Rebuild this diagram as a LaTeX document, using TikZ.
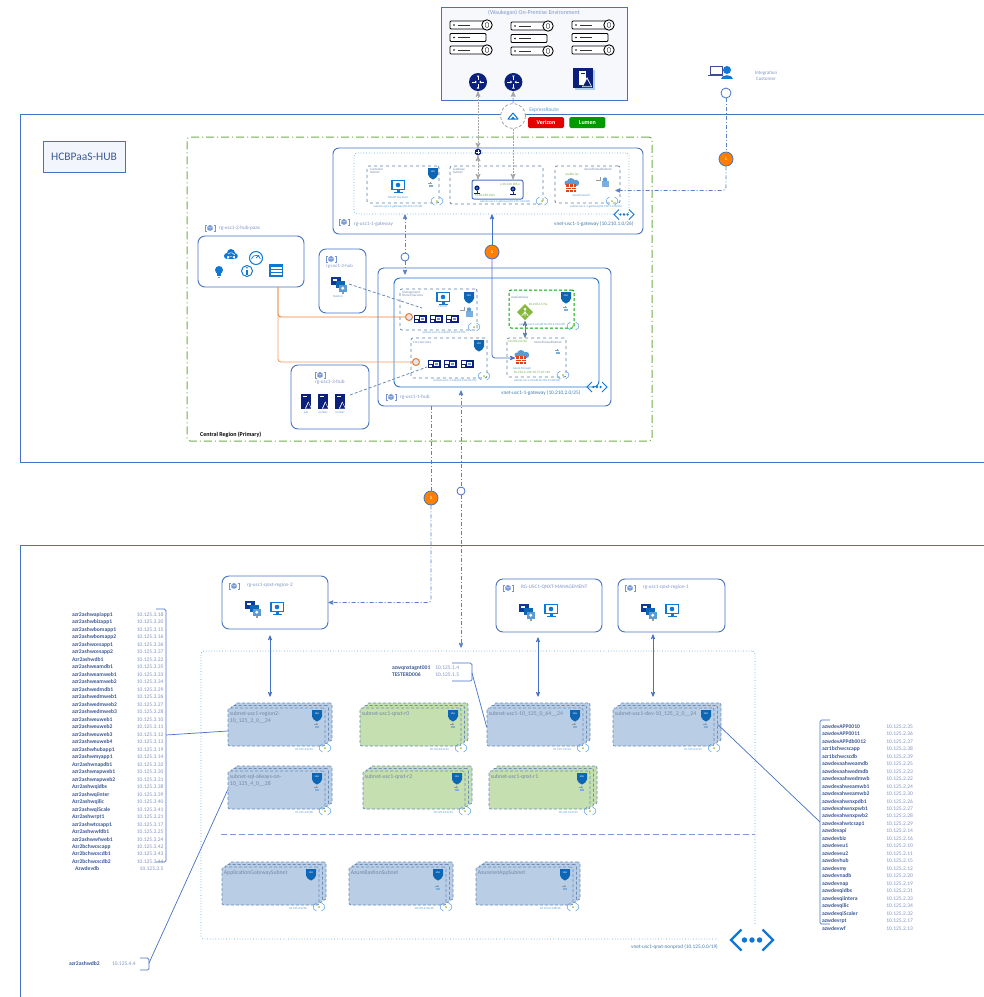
\documentclass[tikz,border=0pt]{standalone}
\usepackage{fontspec}
\setmainfont{Carlito}
\usetikzlibrary{positioning,fit,arrows}
\definecolor{boxblue}{HTML}{4472C4}
\definecolor{hostblue}{HTML}{3D5A98}
\definecolor{iplight}{HTML}{7F94C4}
\definecolor{labelblue}{HTML}{8196C9}
\definecolor{capblue}{HTML}{5B9BD5}
\definecolor{iconblue}{HTML}{0F78D4}
\definecolor{deepblue}{HTML}{0B1F7C}
\definecolor{stackblue}{HTML}{B9CDE5}
\definecolor{stackgreen}{HTML}{C5DFB0}
\definecolor{stackdraw}{HTML}{6A8DB8}
\definecolor{titlegray}{HTML}{7488A6}
\definecolor{greenframe}{HTML}{70AD47}
\definecolor{orangelink}{HTML}{ED7D31}
\definecolor{subnetdash}{HTML}{5B7EA6}
\definecolor{dotblue}{HTML}{5BA3DC}
\newcommand{\pxfont}[1]{\fontsize{#1}{#1}\selectfont}
\newcommand{\subnetstack}[7]{%
  \node[stackbox,fill=#5,fit={({#2+7},{#3-5}) ({#4+7},{#3+33})}] (#1c) {};
  \node[stackbox,fill=#5,fit={({#2+3.5},{#3-2.5}) ({#4+3.5},{#3+35.5})}] (#1b) {};
  \node[stackbox,fill=#5,fit={(#2,#3) (#4,{#3+38})}] (#1) {};
  \node[stacktitle] at ([yshift=-1.5pt]#1.north west) {#6};
  \pic at ({#4-8},{#3+7}) {shield};
  \node[capsmall,anchor=east] at ({#4-12},{#3+41}) {#7};
  \pic at (#4,{#3+40}) {peering};
}
\begin{document}
\begin{tikzpicture}[x=1pt,y=-1pt,
    framebox/.style = {draw=boxblue,line width=0.8pt,inner sep=0pt},
    rgbox/.style = {draw=boxblue,line width=0.9pt,rounded corners=7pt,fill=white,inner sep=0pt},
    vnetbox/.style = {draw=boxblue,line width=0.9pt,rounded corners=6pt,inner sep=0pt},
    dotbox/.style = {draw=dotblue,dotted,line width=0.7pt,rounded corners=3pt,inner sep=0pt},
    netbox/.style = {draw=subnetdash,dashed,line width=0.7pt,rounded corners=2pt,inner sep=0pt},
    stackbox/.style = {draw=stackdraw,densely dashed,line width=0.7pt,rounded corners=2pt,inner sep=0pt},
    stacktitle/.style = {anchor=north west,align=left,inner sep=2pt,text=titlegray,font=\pxfont{5.8}},
    rglabel/.style = {anchor=west,inner sep=0pt,text=labelblue,font=\pxfont{5.2}},
    vnetlabel/.style = {anchor=west,inner sep=0pt,text=capblue!80!black,font=\pxfont{5.3}},
    capsmall/.style = {inner sep=0pt,text=capblue,font=\pxfont{3.1}},
    tinygray/.style = {inner sep=0pt,align=left,text=titlegray,font=\pxfont{3.3}},
    tinygreen/.style = {inner sep=0pt,text=greenframe,font=\pxfont{3.3}},
    hostname/.style = {inner sep=0pt,text width=50pt,align=left,minimum height=7.09pt,text height=3.6pt,text depth=1pt,text=hostblue,font=\bfseries\pxfont{5.6}},
    hostip/.style = {inner sep=0pt,text width=41pt,align=right,minimum height=7.09pt,text height=3.6pt,text depth=1pt,text=iplight,font=\pxfont{5.5}},
    rhostname/.style = {hostname,text width=64pt,minimum height=7.07pt},
    rhostip/.style = {hostip,text width=30pt,align=left,minimum height=7.07pt},
    carrier/.style = {rounded corners=1.5pt,text=white,minimum width=36pt,minimum height=11pt,inner sep=0pt,font=\bfseries\pxfont{6}},
    stepdot/.style = {circle,draw=boxblue,line width=0.8pt,fill=orange,text=white,minimum size=14pt,inner sep=0pt,font=\bfseries\pxfont{4}},
    ringdot/.style = {circle,draw=boxblue,line width=0.8pt,fill=white,minimum size=8pt,inner sep=0pt},
    portdot/.style = {circle,draw=orangelink,line width=1pt,fill=black!10,minimum size=7pt,inner sep=0pt},
    routernode/.style = {circle,fill=deepblue,minimum size=18pt,inner sep=0pt},
    graylink/.style = {color=black!35,dash pattern=on 2pt off 1pt,line width=1pt,stealth'-stealth'},
    dashlink/.style = {color=boxblue!90,line width=0.8pt,dash pattern=on 4pt off 2pt on 1pt off 2pt},
    solidlink/.style = {color=boxblue,line width=0.8pt},
    peerlink/.style = {color=boxblue,line width=0.7pt,stealth'-stealth',shorten >=6pt},
    bracketline/.style = {draw=boxblue,line width=0.7pt,rounded corners=1.5pt},
    tieline/.style = {draw=boxblue,line width=0.7pt},
    vmlink/.style = {draw=subnetdash,densely dashed,line width=0.7pt},
    orangewire/.style = {draw=orangelink,line width=0.9pt,rounded corners=3pt},
    rgicon/.pic = {
      \draw[boxblue!75,line width=0.4pt] (-3.5,-3) -- (-4.8,-3) -- (-4.8,3) -- (-3.5,3);
      \draw[boxblue!75,line width=0.4pt] (3.5,-3) -- (4.8,-3) -- (4.8,3) -- (3.5,3);
      \fill[boxblue!75] (0,-3) -- (2.7,-1.5) -- (2.7,1.5) -- (0,3) -- (-2.7,1.5) -- (-2.7,-1.5) -- cycle;
      \draw[white,line width=0.3pt] (-2.6,-1.5) -- (0,0) -- (2.6,-1.5) (0,0) -- (0,2.9);
    },
    shield/.pic = {
      \fill[iconblue!85!black] (-5,-5) -- (5,-5) -- (5,1.5) .. controls (5,4) and (2,5.5) .. (0,6.5) .. controls (-2,5.5) and (-5,4) .. (-5,1.5) -- cycle;
      \node[inner sep=0pt,text=white,font=\pxfont{2.5}] at (0,-1) {NSG};
    },
    lockicon/.pic = {
      \fill[capblue!80] (-1.6,-0.5) rectangle (1.8,2.3);
      \fill[iconblue!70] (0.1,-1.6) circle (0.8);
      \draw[black!40,line width=0.4pt] (-1.2,-3) -- (-1.2,-1.5) -- (-3,-1.5);
    },
    wideicon/.pic = {
      \fill[capblue!80] (-3.5,-2) rectangle (3.5,4);
      \fill[iconblue!70] (0,-3.5) circle (2.2);
      \draw[black!40,line width=0.6pt] (-4.5,-6) -- (-4.5,-2.5) -- (-9,-2.5);
    },
    peering/.pic = {
      \draw[iconblue!70,line width=0.5pt] (-2.5,-4) .. controls (-7,-2) and (-7,2) .. (-2.5,4);
      \draw[iconblue!70,line width=0.5pt] (2.5,-4) .. controls (7,-2) and (7,2) .. (2.5,4);
      \fill[greenframe!70!yellow] (0,0) circle (1);
    },
    vmstack/.pic = {
      \fill[deepblue!70!iconblue] (-8,-8) rectangle (2,0);
      \fill[white] (-6,-6.5) rectangle (-2,-4.5);
      \fill[iconblue!85!black] (-3,-4) rectangle (6,3);
      \fill[capblue] (-0.5,-0.5) rectangle (8,7);
      \fill[white] (3.7,3.2) circle (1.6);
      \fill[black!40] (2.5,7) rectangle (5,8.5);
    },
    monitor/.pic = {
      \fill[iconblue] (-7,-6) rectangle (7,4);
      \fill[white] (-5.5,-4.7) rectangle (5.5,2.7);
      \fill[iconblue] (0,-1) circle (2.3);
      \fill[iconblue] (-1.5,4) rectangle (1.5,6);
      \fill[iconblue] (-4.5,6) rectangle (4.5,7);
    },
    vmchip/.pic = {
      \fill[deepblue] (-6.5,-4) rectangle (6.5,4);
      \fill[white] (-5,-2.8) rectangle (-1,-0.5);
      \fill[white] (0,-2.5) rectangle (4.5,1.5);
      \fill[capblue] (1,-1.5) rectangle (3.5,0.5);
      \fill[white] (-5,1) rectangle (-2,2.5);
    },
    tower/.pic = {
      \fill[deepblue] (-5,-7.5) rectangle (5,7.5);
      \fill[white] (-3,-5) rectangle (1,-4.2);
      \fill[white] (5.6,7.5) -- (-1,7.5) -- (2.3,0.5) -- cycle;
      \fill[deepblue] (5,7.5) -- (0,7.5) -- (2.5,2) -- cycle;
    },
    rackrow/.pic = {
      \draw[black,line width=0.9pt,fill=white,rounded corners=1pt] (0,-4) rectangle (36,4);
      \fill[black] (4,0) circle (0.9);
      \draw[black!80,line width=0.8pt] (8,0) -- (20,0);
    },
    rackend/.pic = {
      \draw[black,line width=0.9pt,fill=white] (0,0) circle (5.2);
      \draw[black!70,line width=0.5pt,fill=white,rounded corners=1pt] (-1.6,-2.4) rectangle (1.6,2.4);
    },
    rackstack/.pic = {
      \pic at (0,0) {rackrow};
      \pic at (37,0) {rackend};
      \pic at (0,12.5) {rackrow};
      \pic at (0,25) {rackrow};
      \pic at (37,25) {rackend};
    },
    routerarrows/.pic = {
      \draw[white,line width=0.7pt] (-6,0) -- (-2,0) (2,0) -- (6,0) (0,-6) -- (0,-2) (0,2) -- (0,6);
      \fill[white] (-3,-1.4) -- (-3,1.4) -- (-1.2,0) -- cycle;
      \fill[white] (3,-1.4) -- (3,1.4) -- (1.2,0) -- cycle;
      \fill[white] (-1.4,-6.5) -- (1.4,-6.5) -- (0,-4.7) -- cycle;
      \fill[white] (-1.4,6.5) -- (1.4,6.5) -- (0,4.7) -- cycle;
    },
    appstack/.pic = {
      \fill[capblue!50] (-8,-8) rectangle (12,12);
      \fill[deepblue] (-10,-10) rectangle (10,10);
      \fill[white] (-4,-7) rectangle (3,7);
      \fill[deepblue] (-2.5,-5) rectangle (1.5,-4);
      \fill[white] (9,9) -- (-1,9) -- (4,-1) -- cycle;
      \fill[deepblue] (8,8.4) -- (0,8.4) -- (4,1) -- cycle;
    },
    erlogo/.pic = {
      \draw[iconblue,line width=1pt,line join=round] (-5,3) -- (0,-3) -- (5,3) -- cycle;
      \fill[iconblue] (-2,3) -- (0,0.5) -- (2,3) -- cycle;
    },
    hexmark/.pic = {
      \fill[deepblue] (0,-3.5) -- (3,-1.8) -- (3,1.8) -- (0,3.5) -- (-3,1.8) -- (-3,-1.8) -- cycle;
      \draw[white,line width=0.3pt] (-2,0) -- (2,0) (0,-2) -- (0,2);
    },
    vneticon/.pic = {
      \draw[iconblue] (-5,-5) -- (-10,0) -- (-5,5);
      \draw[iconblue] (5,-5) -- (10,0) -- (5,5);
      \fill[iconblue] (-3.6,0) circle (1.3) (0,0) circle (1.3) (3.6,0) circle (1.3);
    },
    firewall/.pic = {
      \fill[capblue] (-1,-4) circle (4) (4,-3) circle (3.2);
      \fill[capblue] (-5,-3) circle (2.5);
      \fill[orangelink!60!red!90!black] (-6,-2) rectangle (4,6);
      \draw[white,line width=0.3pt] (-6,0.7) -- (4,0.7) (-6,3.4) -- (4,3.4) (-3,-2) -- (-3,0.7) (1,-2) -- (1,0.7) (-1,0.7) -- (-1,3.4) (-3,3.4) -- (-3,6) (1,3.4) -- (1,6);
    },
    appgwicon/.pic = {
      \fill[greenframe!85!yellow] (0,-8) -- (8,0) -- (0,8) -- (-8,0) -- cycle;
      \draw[white,line width=0.6pt] (0,-3) -- (0,4) (0,0) -- (-3.5,4) (0,0) -- (3.5,4);
      \fill[white] (0,-3) circle (1.5);
    },
    gwkey/.pic = {
      \fill[deepblue] (0,-1) circle (2.6);
      \fill[capblue] (0,-1) circle (1);
      \draw[deepblue,line width=0.6pt] (0,1.5) -- (0,4) (-3,4) -- (3,4);
    },
    cloudmark/.pic = {
      \fill[iconblue] (-4,1) circle (3) (0,-2) circle (4) (4,1) circle (2.8) (-4,1) rectangle (4,3.8);
      \draw[white,line width=0.5pt] (-3,-1) .. controls (0,-3.5) and (2,-2) .. (4,0);
    },
    gaugemark/.pic = {
      \draw[iconblue,line width=1pt,fill=white] (0,0) circle (6.5);
      \draw[iconblue,line width=0.7pt] (-4.5,1) arc (190:350:4.5);
      \draw[iconblue,line width=0.7pt] (0,0) -- (3,-3);
    },
    infomark/.pic = {
      \draw[iconblue,line width=1pt,fill=white] (0,0) circle (5.5);
      \draw[iconblue,line width=1.1pt] (0,-1) -- (0,3.5);
      \fill[iconblue] (0,-3.2) circle (0.9);
    },
    bulbmark/.pic = {
      \fill[iconblue] (0,-2) circle (4);
      \fill[iconblue] (-1.8,1) rectangle (1.8,4);
      \fill[capblue] (-1.2,4.5) rectangle (1.2,5.5);
    },
    listmark/.pic = {
      \fill[iconblue] (-7,-6.5) rectangle (7,6.5);
      \fill[white] (-5.5,-2.8) rectangle (5.5,-1);
      \fill[white] (-5.5,0) rectangle (5.5,1.8);
      \fill[white] (-5.5,2.8) rectangle (5.5,4.8);
    },
    usermark/.pic = {
      \draw[deepblue!80,line width=0.6pt,fill=white] (-14,-7) rectangle (-2,1);
      \draw[deepblue!80,line width=1pt] (-16,2.5) -- (-1,2.5);
      \fill[iconblue] (3,-3) circle (4);
      \fill[iconblue] (-3,6) .. controls (-3,1) and (9,1) .. (9,6) -- cycle;
    }]
  \useasboundingbox (0,0) rectangle (984,997);
  \fill[white] (0,0) rectangle (984,997);

  \node[framebox,fit={(20,114) (995,462)}] (hubframe) {};
  \node[framebox,fit={(20,545) (995,1010)}] (spokeframe) {};
  \node[framebox,fill=boxblue!7,fit={(43,141) (125,172)}] (hubtitle) {};
  \node[inner sep=0pt,text=hostblue,font=\pxfont{11.5}] at (hubtitle) {HCBPaaS-HUB};
  \node[draw=greenframe,line width=1pt,dash pattern=on 8pt off 3pt on 1pt off 3pt,rounded corners=3pt,inner sep=0pt,fit={(187,137) (652,441)}] (central) {};
  \node[anchor=west,inner sep=0pt,font=\bfseries\pxfont{6}] at (200,435) {Central Region (Primary)};

  \node[framebox,line width=1pt,fill=boxblue!5,fit={(441,7) (627,100)}] (onprem) {};
  \node[inner sep=0pt,text=labelblue,font=\pxfont{6}] at (534,13) {(Waukegan) On-Premise Environment};
  \pic at (450,25) {rackstack};
  \pic at (511,26) {rackstack};
  \pic at (572,25) {rackstack};
  \node[routernode] (router1) at (478,82) {};
  \node[routernode,right = 17pt of router1] (router2) {};
  \pic at (router1) {routerarrows};
  \pic at (router2) {routerarrows};
  \pic at (583,78) {appstack};

  \node[circle,draw=black!40,densely dashed,line width=0.7pt,fill=white,minimum size=25pt,inner sep=0pt] (expressr) at (513,116) {};
  \pic at (expressr) {erlogo};
  \node[inner sep=0pt,text=capblue,font=\pxfont{5.4}] at (544,110) {ExpressRoute};
  \node[carrier,fill=red!90!black] (verizon) at (546,122.5) {Verizon};
  \node[carrier,fill=green!60!black,right = 5pt of verizon] (lumen) {Lumen};

  \node[vnetbox,fill=white,fit={(333,148) (643,234)}] (gwvnet) {};
  \node[dotbox,fit={(354,153) (629,214)}] (gwdots) {};
  \node[netbox,fit={(367,166) (439,203)}] (custnet) {};
  \node[netbox,fit={(450,166) (543,204)}] (gwnet) {};
  \node[netbox,fit={(555,166) (620,203)}] (fwnet) {};
  \node[draw=boxblue,line width=1pt,rounded corners=2pt,inner sep=0pt,fit={(472,180) (523,199)}] (gwinner) {};
  \node[tinygray,anchor=north west] at (370,168) {Customer\\Subnet};
  \node[tinygray,anchor=north west] at (453,168) {Gateway\\Subnet};
  \node[tinygray,anchor=east] at (612,169) {AzureFirewallSubnet};
  \pic at (433,173) {shield};
  \pic at (431,185) {lockicon};
  \pic at (398,186) {monitor};
  \node[capsmall,text=capblue] at (398,197) {MineIT Receiver};
  \pic at (477,189) {gwkey};
  \pic at (513,190) {gwkey};
  \node[tinygreen] at (485,195) {10.64.250.20/x};
  \node[tinygreen] at (510,184.5) {x.30.220.185.x};
  \pic at (572,186) {firewall};
  \node[capsmall] at (581,195) {AzureFirewall};
  \node[tinygreen] at (572,175) {<public ip>};
  \pic at (605,183) {wideicon};
  \pic at (437,201) {peering};
  \pic at (542,201) {peering};
  \pic at (612,201) {peering};
  \node[capsmall] at (398,207) {subnet-usc1-1-gateway(10.210.1.0/26)};
  \node[capsmall] at (505,201.5) {subnet-usc1-1-gateway(10.210.1.64/26)};
  \node[capsmall] at (596,207) {subnet-usc1-1-gateway(10.210.1.128/26)};
  \pic at (344,222) {rgicon};
  \node[rglabel] at (354,224) {rg-usc1-1-gateway};
  \node[vnetlabel] at (554,224) {vnet-usc1-1-gateway (10.210.1.0/26)};
  \pic[line width=1pt] at (624,214.5) {vneticon};
  \node[inner sep=0pt,minimum size=7pt] (gwmark) at (478,152) {};
  \pic at (gwmark) {hexmark};

  \draw[graylink] (router1) -- (gwmark);
  \draw[graylink] (gwmark) -- (gwmark |- gwinner.north);
  \draw[graylink,-stealth'] (expressr) -- (router2);
  \draw[graylink,-stealth'] (expressr) -- (expressr |- gwinner.north);

  \node[rgbox,fit={(198,236) (304,287)}] (rgpaas) {};
  \pic at (210,228) {rgicon};
  \node[rglabel] at (219,228) {rg-usc1-2-hub-paas};
  \pic at (231,255) {cloudmark};
  \pic at (256,258) {gaugemark};
  \pic at (219,272) {bulbmark};
  \pic at (247,271) {infomark};
  \pic at (276,270) {listmark};
  \coordinate (paasout) at (278,287);

  \node[rgbox,fit={(319,249) (366,313)}] (rghub2) {};
  \pic at (331,259) {rgicon};
  \node[rglabel,font=\pxfont{4.7}] at (326,266) {rg-usc1-2-hub};
  \pic at (339,285) {vmstack};
  \node[capsmall] at (338,296) {Bastion};
  \coordinate (bastionout) at (349,284);

  \node[rgbox,fit={(291,365) (369,429)}] (rghub3) {};
  \pic at (320,375) {rgicon};
  \node[rglabel] at (315,382) {rg-usc1-3-hub};
  \pic at (306,401) {tower};
  \pic at (323,401) {tower};
  \pic at (340,401) {tower};
  \node[capsmall] at (306,412) {ads};
  \node[capsmall] at (323,412) {oc/dwc};
  \node[capsmall] at (340,412) {oc/dwc};
  \coordinate (adsout) at (350,395);

  \node[vnetbox,fit={(378,268) (611,406)}] (hubrg) {};
  \node[vnetbox,draw=iconblue!70!boxblue,fit={(394,278) (599,387)}] (hubvnet) {};
  \node[netbox,fit={(400,289) (477,330)}] (mgmtnet) {};
  \node[netbox,fit={(411,338) (487,378)}] (corenet) {};
  \node[draw=green!65!black,densely dashed,line width=1pt,rounded corners=2pt,inner sep=0pt,fit={(509,290) (574,328)}] (appnet) {};
  \node[netbox,fit={(507,338) (566,377)}] (fwhub) {};
  \node[tinygray,anchor=north west] at (402,291) {Management\\Shared Services};
  \node[tinygray,anchor=west] at (413,342) {Core Services};
  \node[tinygray,anchor=west] at (511,298) {AppGateway};
  \node[tinygray,anchor=west] at (534,342) {AzureFirewallSubnet};
  \node[tinygreen,anchor=west] at (508,341.5) {10.210.2.0/26};
  \pic at (469,297) {shield};
  \pic at (469,313) {wideicon};
  \pic at (443,298) {monitor};
  \node[capsmall] at (443,306.5) {MineIT};
  \pic at (420,319) {vmchip};
  \pic at (436,319) {vmchip};
  \pic at (452,319) {vmchip};
  \pic at (479,345) {shield};
  \pic at (434,364) {vmchip};
  \pic at (450,364) {vmchip};
  \pic at (467,364) {vmchip};
  \pic at (566,297) {shield};
  \pic at (566,309) {lockicon};
  \pic at (525,312) {appgwicon};
  \node[tinygreen] at (538,304) {10.210.2.5/5a};
  \pic at (522,358) {firewall};
  \node[capsmall] at (522,368) {Azure Firewall};
  \node[tinygreen] at (532,372.5) {10.210.2.132/10.77.45.165};
  \pic at (558,352) {lockicon};
  \pic at (474,327) {peering};
  \pic at (484,376) {peering};
  \pic at (573,326) {peering};
  \pic at (563,375) {peering};
  \node[capsmall] at (444,332.5) {subnet-usc1-2-hub(10.210.2.0/26)};
  \node[capsmall] at (455,381) {subnet-usc1-1-hub(10.210.2.0/25)};
  \node[capsmall] at (542,324.5) {subnet-usc1-a-hub(10.210.2.192/26)};
  \node[capsmall] at (537,381) {subnet-usc1-3-hub(10.210.2.128/26)};
  \pic at (391,397) {rgicon};
  \node[rglabel] at (400,397) {rg-usc1-1-hub};
  \node[vnetlabel] at (501,393) {vnet-usc1-1-gateway (10.210.2.0/25)};
  \pic[line width=1pt] at (597,387) {vneticon};

  \node[portdot] (portA) at (409,317) {};
  \node[portdot] (portB) at (416,362) {};
  \draw[orangewire] (paasout) |- (portA);
  \draw[orangewire,orangelink!75] (paasout) |- (portB);
  \coordinate (mgmtin) at (422,308);
  \coordinate (corein) at (427,367);
  \draw[vmlink] (bastionout) -- (mgmtin);
  \draw[vmlink] (adsout) -- (corein);
  \coordinate (appgwout) at (525,321);
  \draw[solidlink,color=subnetdash,stealth'-stealth'] (appgwout) -- (appgwout |- fwhub.north);

  \pic at (724,73) {usermark};
  \node[inner sep=0pt,align=center,text=labelblue,font=\pxfont{5}] at (766,75.5) {Integration\\[1pt]Customer};
  \node[ringdot,minimum size=10pt] (custring) at (726,93) {};
  \node[stepdot] (stepA) at (726,159) {1};
  \draw[dashlink] (custring) -- (stepA);
  \draw[dashlink,-stealth',rounded corners=3pt] (stepA) |- ([xshift=-5pt,yshift=-6pt]fwnet.east);

  \node[stepdot] (stepB) at (492,252) {2};
  \coordinate (fwin) at (515,358);
  \draw[solidlink,stealth'-] (gwdots.south -| stepB) -- (stepB);
  \draw[solidlink,-stealth',rounded corners=3pt] (stepB) |- (fwin);

  \node[ringdot] (ringE) at (405,257) {};
  \draw[dashlink,stealth'-] (gwdots.south -| ringE) -- (ringE);
  \draw[dashlink,-stealth'] (ringE) -- ([yshift=3pt]ringE |- hubvnet.north);

  \node[rgbox,fit={(222,576) (328,629)}] (rgA) {};
  \pic at (234,586) {rgicon};
  \node[rglabel] at (247,585) {rg-usc1-qnxt-region-2};
  \pic at (253,609) {vmstack};
  \pic at (277,608) {monitor};
  \node[rgbox,fit={(496,579) (602,632)}] (rgM) {};
  \pic at (508,588) {rgicon};
  \node[rglabel] at (521,587) {RG-USC1-QNXT-MANAGEMENT};
  \pic at (527,612) {vmstack};
  \pic at (551,610) {monitor};
  \node[rgbox,fit={(618,579) (725,632)}] (rgD) {};
  \pic at (630,588) {rgicon};
  \node[rglabel] at (643,587) {rg-usc1-qnxt-region-1};
  \pic at (649,612) {vmstack};
  \pic at (672,610) {monitor};

  \node[dotbox,fit={(201,651) (755,939)}] (nonprod) {};
  \fill[white] (718,925) rectangle (790,955);
  \pic[line width=2.2pt,scale=2.1] at (752,940) {vneticon};
  \node[vnetlabel] at (631,947) {vnet-usc1-qnxt-nonprod (10.125.0.0/19)};

  \subnetstack{subA}{228}{708}{325}{stackblue}{subnet-usc1-region2-\\[1pt]10\_125\_3\_0\_\_24}{10.125.3.0/24}
  \subnetstack{subB}{360}{708}{461}{stackgreen}{subnet-usc1-qnxt-r0}{10.125.48.0/24}
  \subnetstack{subC}{487}{708}{583}{stackblue}{subnet-usc1-10\_125\_0\_64\_\_24}{10.125.1.0/24}
  \subnetstack{subD}{613}{708}{714}{stackblue}{subnet-usc1-dev-10\_125\_2\_0\_\_24}{10.125.2.0/24}
  \subnetstack{subE}{228}{771}{325}{stackblue}{subnet-sql-always-on-\\[1pt]10\_125\_4\_0\_\_28}{10.125.4.0/28}
  \subnetstack{subF}{363}{771}{465}{stackgreen}{subnet-usc1-qnxt-r2}{10.125.32.0/24}
  \subnetstack{subG}{489}{771}{590}{stackgreen}{subnet-usc1-qnxt-r1}{10.125.16.0/24}
  \subnetstack{subH}{222}{867}{319}{stackblue}{ApplicationGatewaySubnet}{10.125.6.0/26}
  \subnetstack{subI}{349}{867}{446}{stackblue}{AzureBastionSubnet}{10.125.6.64/26}
  \subnetstack{subJ}{476}{867}{573}{stackblue}{AzurenetAppSubnet}{10.125.6.128/26}
  \pic at (317,726) {lockicon};
  \pic at (453,726) {lockicon};
  \pic at (575,726) {lockicon};
  \pic at (706,726) {lockicon};
  \pic at (317,789) {lockicon};
  \pic at (457,789) {lockicon};
  \pic at (582,789) {lockicon};
  \pic at (438,888) {lockicon};
  \pic at (565,888) {lockicon};
  \coordinate (sepL) at (221,834);
  \coordinate (sepR) at (755,834);
  \draw[draw=boxblue!70,line width=0.8pt,dash pattern=on 6pt off 3pt] (sepL) -- (sepR);

  \coordinate (arrowA) at ([xshift=-5pt,yshift=-6pt]rgA.south);
  \coordinate (arrowM) at ([xshift=-11pt,yshift=-5pt]rgM.south);
  \coordinate (arrowD) at ([xshift=-18.5pt,yshift=-2pt]rgD.south);
  \draw[peerlink] (arrowA) -- (arrowA |- subAc.north);
  \draw[peerlink] (arrowM) -- (arrowM |- subCc.north);
  \draw[peerlink] (arrowD) -- (arrowD |- subDc.north);

  \node[stepdot] (stepC) at (431,498) {3};
  \draw[dashlink] (hubrg.south -| stepC) -- (stepC);
  \draw[dashlink,-stealth',rounded corners=3pt] (stepC) |- (rgA.east);
  \node[ringdot] (ringD) at (461,491) {};
  \draw[dashlink,stealth'-] ([yshift=-3pt]hubvnet.south -| ringD) -- (ringD);
  \draw[dashlink,-stealth'] (ringD) -- ([yshift=3pt]ringD |- nonprod.north);

  \node[hostname,text width=43pt] (q1) at (413.5,668) {azwqnxtagnt001};
  \node[hostip,text width=25pt,align=left,right = 0pt of q1] (q1ip) {10.125.1.4};
  \node[hostname,text width=43pt,below = 0pt of q1] (q2) {TESTERD006};
  \node[hostip,text width=25pt,align=left,right = 0pt of q2] (q2ip) {10.125.1.5};
  \coordinate (qtop) at (452,663);
  \coordinate (qmid) at (472,673);
  \coordinate (qbot) at (452,681);
  \draw[bracketline] (qtop) -| (qmid) |- (qbot);
  \draw[tieline] (qmid) -- (subC.west);

  \node[hostname,text width=43pt] (b1) at (90.5,964) {azr2ashwdb2};
  \node[hostip,text width=25pt,align=left] (b1ip) at (124.5,964) {10.125.4.4};
  \coordinate (btop) at (140,958);
  \coordinate (bmid) at (149,963);
  \coordinate (bbot) at (140,970);
  \draw[bracketline] (btop) -| (bmid) |- (bbot);
  \draw[tieline] (bmid) -- (subE.west);

  \coordinate (ltop) at (156,609);
  \coordinate (lmid) at (166,735);
  \coordinate (lbot) at (156,862);
  \draw[bracketline] (ltop) -| (lmid) |- (lbot);
  \draw[tieline] (lmid) -- ([yshift=-4pt]subA.west);
  \coordinate (rtop) at (830,720);
  \coordinate (rmid) at (820,822);
  \coordinate (rbot) at (830,924);
  \draw[bracketline] (rtop) -| (rmid) |- (rbot);
  \draw[tieline] (rmid) -- (subDb.east);

  \node[hostname] (h1) at (97,615) {azr2ashwapiapp1}; \node[hostip,right = 0pt of h1] (p1) {10.125.3.18};
  \node[hostname,below = 0pt of h1] (h2) {azr2ashwbizapp1}; \node[hostip,right = 0pt of h2] (p2) {10.125.3.20};
  \node[hostname,below = 0pt of h2] (h3) {azr2ashwbomapp1}; \node[hostip,right = 0pt of h3] (p3) {10.125.3.15};
  \node[hostname,below = 0pt of h3] (h4) {azr2ashwbomapp2}; \node[hostip,right = 0pt of h4] (p4) {10.125.3.16};
  \node[hostname,below = 0pt of h4] (h5) {azr2ashwcesapp1}; \node[hostip,right = 0pt of h5] (p5) {10.125.3.36};
  \node[hostname,below = 0pt of h5] (h6) {azr2ashwcesapp2}; \node[hostip,right = 0pt of h6] (p6) {10.125.3.37};
  \node[hostname,below = 0pt of h6] (h7) {Azr2ashwdb1}; \node[hostip,right = 0pt of h7] (p7) {10.125.3.22};
  \node[hostname,below = 0pt of h7] (h8) {azr2ashweamdb1}; \node[hostip,right = 0pt of h8] (p8) {10.125.3.35};
  \node[hostname,below = 0pt of h8] (h9) {azr2ashweamweb1}; \node[hostip,right = 0pt of h9] (p9) {10.125.3.33};
  \node[hostname,below = 0pt of h9] (h10) {azr2ashweamweb2}; \node[hostip,right = 0pt of h10] (p10) {10.125.3.34};
  \node[hostname,below = 0pt of h10] (h11) {azr2ashwedmdb1}; \node[hostip,right = 0pt of h11] (p11) {10.125.3.29};
  \node[hostname,below = 0pt of h11] (h12) {azr2ashwedmweb1}; \node[hostip,right = 0pt of h12] (p12) {10.125.3.26};
  \node[hostname,below = 0pt of h12] (h13) {azr2ashwedmweb2}; \node[hostip,right = 0pt of h13] (p13) {10.125.3.27};
  \node[hostname,below = 0pt of h13] (h14) {azr2ashwedmweb3}; \node[hostip,right = 0pt of h14] (p14) {10.125.3.28};
  \node[hostname,below = 0pt of h14] (h15) {azr2ashweuweb1}; \node[hostip,right = 0pt of h15] (p15) {10.125.3.10};
  \node[hostname,below = 0pt of h15] (h16) {azr2ashweuweb2}; \node[hostip,right = 0pt of h16] (p16) {10.125.3.11};
  \node[hostname,below = 0pt of h16] (h17) {azr2ashweuweb3}; \node[hostip,right = 0pt of h17] (p17) {10.125.3.12};
  \node[hostname,below = 0pt of h17] (h18) {azr2ashweuweb4}; \node[hostip,right = 0pt of h18] (p18) {10.125.3.13};
  \node[hostname,below = 0pt of h18] (h19) {azr2ashwhubapp1}; \node[hostip,right = 0pt of h19] (p19) {10.125.3.19};
  \node[hostname,below = 0pt of h19] (h20) {azr2ashwmyapp1}; \node[hostip,right = 0pt of h20] (p20) {10.125.3.14};
  \node[hostname,below = 0pt of h20] (h21) {Azr2ashwnapdb1}; \node[hostip,right = 0pt of h21] (p21) {10.125.3.32};
  \node[hostname,below = 0pt of h21] (h22) {azr2ashwnxpweb1}; \node[hostip,right = 0pt of h22] (p22) {10.125.3.30};
  \node[hostname,below = 0pt of h22] (h23) {azr2ashwnxpweb2}; \node[hostip,right = 0pt of h23] (p23) {10.125.3.31};
  \node[hostname,below = 0pt of h23] (h24) {Azr2ashwqidbs}; \node[hostip,right = 0pt of h24] (p24) {10.125.3.38};
  \node[hostname,below = 0pt of h24] (h25) {azr2ashwqiinter}; \node[hostip,right = 0pt of h25] (p25) {10.125.3.39};
  \node[hostname,below = 0pt of h25] (h26) {Azr2ashwqilic}; \node[hostip,right = 0pt of h26] (p26) {10.125.3.40};
  \node[hostname,below = 0pt of h26] (h27) {azr2ashwqiScale}; \node[hostip,right = 0pt of h27] (p27) {10.125.3.41};
  \node[hostname,below = 0pt of h27] (h28) {Azr2ashwrpt1}; \node[hostip,right = 0pt of h28] (p28) {10.125.3.21};
  \node[hostname,below = 0pt of h28] (h29) {azr2ashwtcsapp1}; \node[hostip,right = 0pt of h29] (p29) {10.125.3.17};
  \node[hostname,below = 0pt of h29] (h30) {Azr2ashwwfdb1}; \node[hostip,right = 0pt of h30] (p30) {10.125.3.25};
  \node[hostname,below = 0pt of h30] (h31) {azr2ashwwfweb1}; \node[hostip,right = 0pt of h31] (p31) {10.125.3.24};
  \node[hostname,below = 0pt of h31] (h32) {Azr2bchwcscapp}; \node[hostip,right = 0pt of h32] (p32) {10.125.3.42};
  \node[hostname,below = 0pt of h32] (h33) {Azr2bchwcscdb1}; \node[hostip,right = 0pt of h33] (p33) {10.125.3.43};
  \node[hostname,below = 0pt of h33] (h34) {Azr2bchwcscdb2}; \node[hostip,right = 0pt of h34] (p34) {10.125.3.44};
  \node[hostname,below = 0pt of h34] (h35) {\hspace{3pt}Azwdevdb}; \node[hostip,right = 0pt of h35] (p35) {10.125.3.5};

  \node[rhostname] (r1) at (854,727) {azwdevAPP0010}; \node[rhostip,right = 0pt of r1] (s1) {10.125.2.35};
  \node[rhostname,below = 0pt of r1] (r2) {azwdevAPP0011}; \node[rhostip,right = 0pt of r2] (s2) {10.125.2.36};
  \node[rhostname,below = 0pt of r2] (r3) {azwdevAPPdb0012}; \node[rhostip,right = 0pt of r3] (s3) {10.125.2.37};
  \node[rhostname,below = 0pt of r3] (r4) {azr1bchwcscapp}; \node[rhostip,right = 0pt of r4] (s4) {10.125.2.38};
  \node[rhostname,below = 0pt of r4] (r5) {azr1bchwcscdb}; \node[rhostip,right = 0pt of r5] (s5) {10.125.2.39};
  \node[rhostname,below = 0pt of r5] (r6) {azwdevaahweamdb}; \node[rhostip,right = 0pt of r6] (s6) {10.125.2.25};
  \node[rhostname,below = 0pt of r6] (r7) {azwdevaahwedmdb}; \node[rhostip,right = 0pt of r7] (s7) {10.125.2.23};
  \node[rhostname,below = 0pt of r7] (r8) {azwdevaahwedmwb}; \node[rhostip,right = 0pt of r8] (s8) {10.125.2.22};
  \node[rhostname,below = 0pt of r8] (r9) {azwdevahweamwb1}; \node[rhostip,right = 0pt of r9] (s9) {10.125.2.24};
  \node[rhostname,below = 0pt of r9] (r10) {azwdevahweamwb2}; \node[rhostip,right = 0pt of r10] (s10) {10.125.2.30};
  \node[rhostname,below = 0pt of r10] (r11) {azwdevahwnxpdb1}; \node[rhostip,right = 0pt of r11] (s11) {10.125.2.26};
  \node[rhostname,below = 0pt of r11] (r12) {azwdevahwnxpwb1}; \node[rhostip,right = 0pt of r12] (s12) {10.125.2.27};
  \node[rhostname,below = 0pt of r12] (r13) {azwdevahwnxpwb2}; \node[rhostip,right = 0pt of r13] (s13) {10.125.2.28};
  \node[rhostname,below = 0pt of r13] (r14) {azwdevahwtcsap1}; \node[rhostip,right = 0pt of r14] (s14) {10.125.2.29};
  \node[rhostname,below = 0pt of r14] (r15) {azwdevapi}; \node[rhostip,right = 0pt of r15] (s15) {10.125.2.14};
  \node[rhostname,below = 0pt of r15] (r16) {azwdevbiz}; \node[rhostip,right = 0pt of r16] (s16) {10.125.2.16};
  \node[rhostname,below = 0pt of r16] (r17) {azwdeveu1}; \node[rhostip,right = 0pt of r17] (s17) {10.125.2.10};
  \node[rhostname,below = 0pt of r17] (r18) {azwdeveu2}; \node[rhostip,right = 0pt of r18] (s18) {10.125.2.11};
  \node[rhostname,below = 0pt of r18] (r19) {azwdevhub}; \node[rhostip,right = 0pt of r19] (s19) {10.125.2.15};
  \node[rhostname,below = 0pt of r19] (r20) {azwdevmy}; \node[rhostip,right = 0pt of r20] (s20) {10.125.2.12};
  \node[rhostname,below = 0pt of r20] (r21) {azwdevnadb}; \node[rhostip,right = 0pt of r21] (s21) {10.125.2.20};
  \node[rhostname,below = 0pt of r21] (r22) {azwdevnap}; \node[rhostip,right = 0pt of r22] (s22) {10.125.2.19};
  \node[rhostname,below = 0pt of r22] (r23) {azwdevqidbs}; \node[rhostip,right = 0pt of r23] (s23) {10.125.2.31};
  \node[rhostname,below = 0pt of r23] (r24) {azwdevqiintera}; \node[rhostip,right = 0pt of r24] (s24) {10.125.2.33};
  \node[rhostname,below = 0pt of r24] (r25) {azwdevqilic}; \node[rhostip,right = 0pt of r25] (s25) {10.125.2.34};
  \node[rhostname,below = 0pt of r25] (r26) {azwdevqiScaler}; \node[rhostip,right = 0pt of r26] (s26) {10.125.2.32};
  \node[rhostname,below = 0pt of r26] (r27) {azwdevrpt}; \node[rhostip,right = 0pt of r27] (s27) {10.125.2.17};
  \node[rhostname,below = 0pt of r27] (r28) {azwdevwf}; \node[rhostip,right = 0pt of r28] (s28) {10.125.2.13};
\end{tikzpicture}
\end{document}
